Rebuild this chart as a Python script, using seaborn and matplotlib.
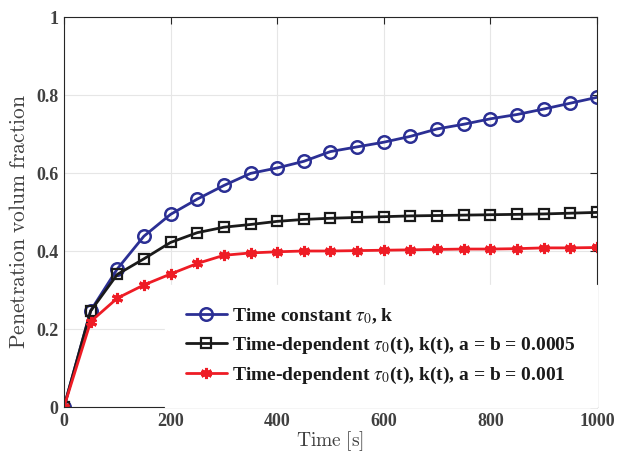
import pandas as pd
import matplotlib
matplotlib.use('Agg')
import matplotlib.pyplot as plt
import seaborn as sns
import numpy as np

time_s = [0, 50, 100, 150, 200, 250, 300, 350, 400, 450, 500,
          550, 600, 650, 700, 750, 800, 850, 900, 950, 1000]
const_vals = [0.0, 0.247, 0.354, 0.438, 0.494, 0.533, 0.568, 0.599, 0.613, 0.630, 0.655,
              0.667, 0.679, 0.694, 0.713, 0.725, 0.739, 0.750, 0.764, 0.779, 0.794]
dep_0005_vals = [0.0, 0.246, 0.340, 0.380, 0.422, 0.447, 0.461, 0.468, 0.476, 0.481, 0.484,
                 0.486, 0.488, 0.490, 0.491, 0.492, 0.493, 0.494, 0.495, 0.497, 0.499]
dep_001_vals = [0.0, 0.219, 0.279, 0.313, 0.341, 0.368, 0.389, 0.395, 0.398, 0.400, 0.400,
                0.401, 0.402, 0.403, 0.404, 0.405, 0.405, 0.406, 0.408, 0.408, 0.409]
labels = [r'Time constant $\tau_0$, k',
          r'Time-dependent $\tau_0$(t), k(t), a = b = 0.0005',
          r'Time-dependent $\tau_0$(t), k(t), a = b = 0.001']

sns.set_theme(style="whitegrid")
plt.rcParams['font.family'] = ['Liberation Serif', 'DejaVu Serif']
plt.rcParams['mathtext.fontset'] = 'stix'

fig = plt.figure(figsize=(6.17, 4.57), dpi=100)
ax = fig.add_axes([0.1037, 0.1094, 0.8639, 0.8534])

styles = [
    dict(color='#2b2f94', marker='o', markersize=9, markerfacecolor='none',
         markeredgewidth=1.8, markeredgecolor='#2b2f94'),
    dict(color='#1a1a1a', marker='s', markersize=7, markerfacecolor='none',
         markeredgewidth=1.6, markeredgecolor='#1a1a1a'),
    dict(color='#ee1c25', marker=(6, 2, 0), markersize=8,
         markeredgewidth=2.2, markeredgecolor='#ee1c25'),
]
for vals, lab, st in zip([const_vals, dep_0005_vals, dep_001_vals], labels, styles):
    df = pd.DataFrame({'t': time_s, 'v': vals})
    sns.lineplot(data=df, x='t', y='v', ax=ax, label=lab, linewidth=2, **st)

ax.set_xlim(0, 1000)
ax.set_ylim(0, 1)
ax.set_xticks([0, 200, 400, 600, 800, 1000])
ax.set_yticks([0, 0.2, 0.4, 0.6, 0.8, 1])
ax.set_xticklabels(['0', '200', '400', '600', '800', '1000'])
ax.set_yticklabels(['0', '0.2', '0.4', '0.6', '0.8', '1'])
ax.set_facecolor('white')
ax.grid(True, color='#e6e6e6', linewidth=0.8)
for s in ax.spines.values():
    s.set_visible(True)
    s.set_color('#262626')
    s.set_linewidth(0.8)
ax.tick_params(direction='in', length=5, width=0.8, color='#262626',
               top=True, right=True, labelsize=13, labelcolor='#404040', pad=4)
for t in ax.get_xticklabels() + ax.get_yticklabels():
    t.set_fontweight('bold')

ax.set_xlabel(r'$\mathrm{Time\ [s]}$', fontsize=14, color='#404040', labelpad=0,
              math_fontfamily='cm')
ax.set_ylabel(r'$\mathrm{Penetration\ volum\ fraction}$', fontsize=15.5, color='#404040',
              math_fontfamily='cm')
ax.yaxis.set_label_coords(-0.064, 0.475)

leg = ax.legend(loc='lower right', borderaxespad=0, frameon=True, facecolor='white',
                edgecolor='white', framealpha=1, fancybox=False, handlelength=2.1,
                handletextpad=0.27, labelspacing=0.45, borderpad=1.1,
                prop={'weight': 'bold', 'size': 14})
for t in leg.get_texts():
    t.set_color('#1a1a1a')

fig.savefig('out.png', dpi=100, facecolor='white')
